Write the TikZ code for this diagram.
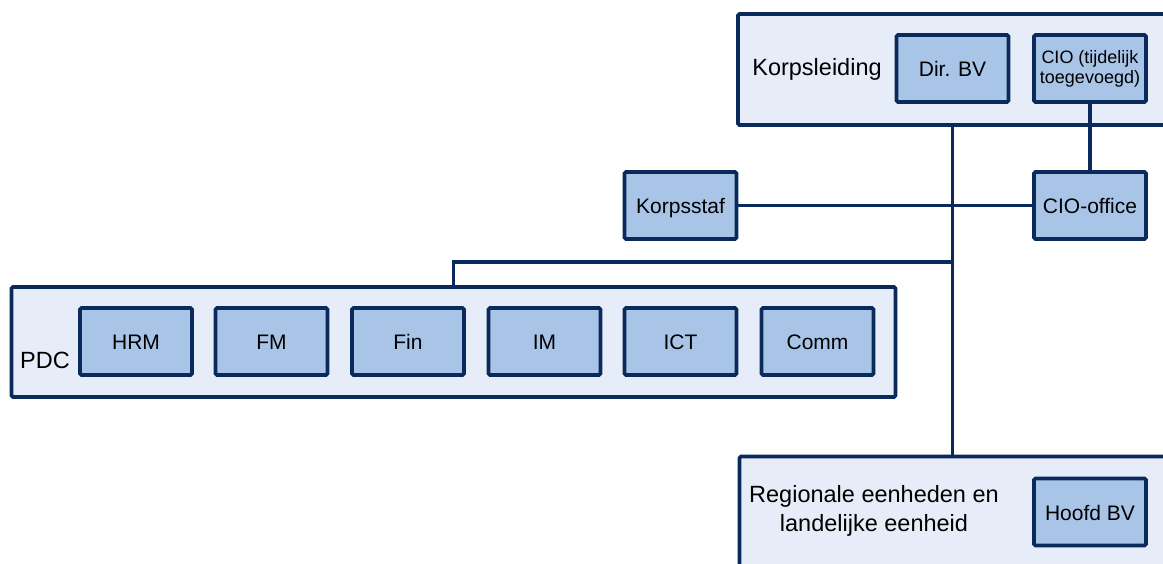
\documentclass[tikz,border=0pt]{standalone}
\usepackage{fontspec}
\setmainfont{Liberation Sans}
\usepackage{tikz}
\definecolor{navy}{HTML}{0B2A5C}
\definecolor{groupfill}{HTML}{E7EDF8}
\definecolor{unitfill}{HTML}{A8C5E8}
\tikzset{
	group/.style={draw=navy,fill=groupfill,line width=3.7pt,rounded corners=1.5pt,inner sep=0pt},
	unit/.style={draw=navy,fill=unitfill,line width=3.7pt,rounded corners=1.5pt,minimum width=112pt,minimum height=67pt,inner sep=0pt,font=\fontsize{21}{23}\selectfont,text height=16pt,text depth=0pt},
	lbl/.style={font=\fontsize{23.5}{29}\selectfont,align=center,inner sep=0pt},
	link/.style={draw=navy,line width=3.7pt}
}
\begin{document}
\begin{tikzpicture}[x=1pt,y=1pt]
			\clip (0,0) rectangle (1163,-564);
			% groepen
			\node[group,minimum width=440pt,minimum height=111pt] (kl) at (958,-69.5) {};
			\node[group,minimum width=884pt,minimum height=110pt] (pdc) at (453.5,-342) {};
			\node[group,minimum width=439pt,minimum height=132pt] (reg) at (959,-522.5) {};
			
			% korpsleiding
			\node[lbl] (kllbl) at (817,-69) {Korpsleiding};
			\node[unit] (dir) at (952.5,-68.5) {Dir. BV};
			\node[unit,align=center,font=\fontsize{18}{20}\selectfont,text height=,text depth=] (cio) at (1090,-68.5) {CIO (tijdelijk\\toegevoegd)};
			
			% staf
			\node[unit] (staf) at (680.5,-205.5) {Korpsstaf};
			\node[unit] (office) at (1090,-205.5) {CIO-office};
			
			% PDC
			\node[lbl] (pdclbl) at (45,-360) {PDC};
			\node[unit] (hrm) at (136,-341.5) {HRM};
			\node[unit] (fm) at (271.5,-341.5) {FM};
			\node[unit] (fin) at (408,-341.5) {Fin};
			\node[unit] (im) at (544.5,-341.5) {IM};
			\node[unit] (ict) at (680.5,-341.5) {ICT};
			\node[unit] (comm) at (817.5,-341.5) {Comm};
			
			% eenheden
			\node[lbl] (reglbl) at (874,-511) {Regionale eenheden en\\landelijke eenheid};
			\node[unit] (hoofd) at (1090,-512) {Hoofd BV};
			
			% lijnen
			\coordinate (split) at (dir |- 0,-262);
			\draw[link] (kl.south -| dir) -- (reg.north -| dir);
			\draw[link] (staf) -- (office);
			\draw[link] (cio) -- (office);
			\draw[link] (split) -| (pdc.north);
\end{tikzpicture}
\end{document}
